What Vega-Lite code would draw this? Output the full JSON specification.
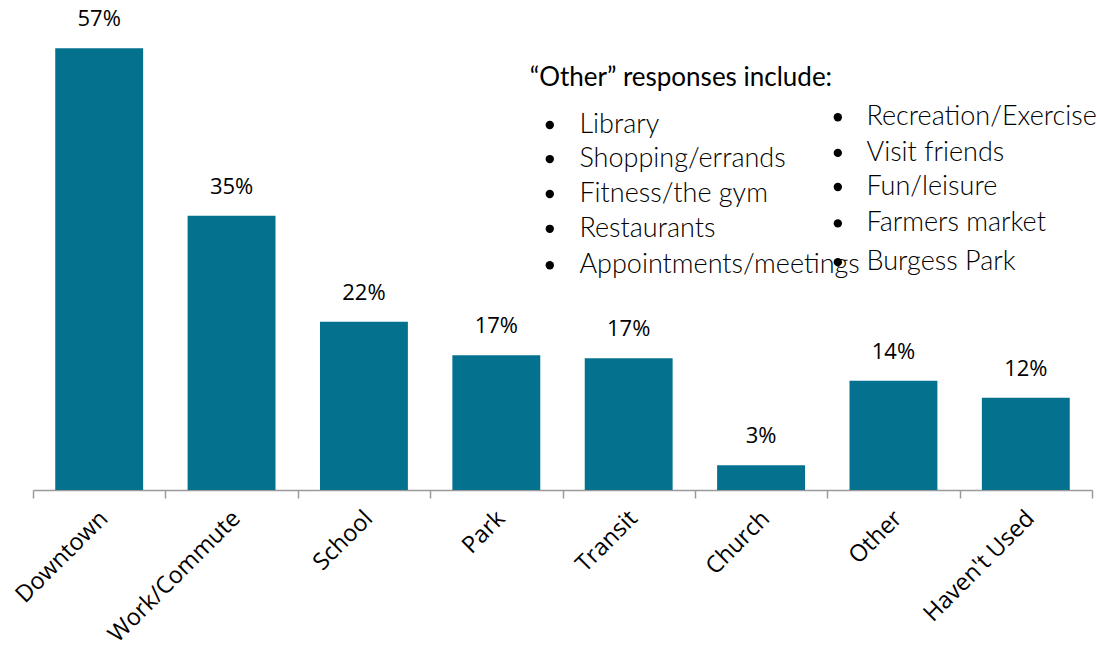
{
  "$schema": "https://vega.github.io/schema/vega-lite/v6.json",
  "width": 1059,
  "height": 465,
  "autosize": {"type": "none"},
  "padding": {"left": 33, "top": 25, "right": 5, "bottom": 160},
  "config": {"view": {"stroke": null}},
  "layer": [
    {
      "data": {"values": [
        {"place": "Downtown", "share": 0.57},
        {"place": "Work/Commute", "share": 0.354},
        {"place": "School", "share": 0.217},
        {"place": "Park", "share": 0.174},
        {"place": "Transit", "share": 0.170},
        {"place": "Church", "share": 0.032},
        {"place": "Other", "share": 0.141},
        {"place": "Haven't Used", "share": 0.119}
      ]},
      "encoding": {
        "x": {
          "field": "place", "type": "nominal", "sort": null,
          "scale": {"paddingInner": 0, "paddingOuter": 0},
          "axis": {
            "title": null, "labelAngle": -45, "labelFont": "Open Sans", "labelFontSize": 23.5,
            "labelColor": "#000", "labelPadding": 8, "labelOffset": -4, "domainColor": "#9a9a9a", "domainWidth": 1.5,
            "tickColor": "#9a9a9a", "tickWidth": 1.5, "tickSize": 8, "tickBand": "extent"
          }
        },
        "y": {"field": "share", "type": "quantitative", "scale": {"domain": [0, 0.6]}, "axis": null}
      },
      "layer": [
        {"mark": {"type": "bar", "color": "#04728F", "width": {"band": 0.664}}},
        {
          "mark": {"type": "text", "baseline": "bottom", "dy": -17, "font": "Open Sans", "fontSize": 22, "color": "#000"},
          "encoding": {"text": {"field": "share", "type": "quantitative", "format": ".0%"}}
        }
      ]
    },
    {
      "data": {"values": [
        {"item": "Library", "tx": 51.6, "bx": 48.8, "v": 0.471},
        {"item": "Shopping/errands", "tx": 51.6, "bx": 48.8, "v": 0.427},
        {"item": "Fitness/the gym", "tx": 51.6, "bx": 48.8, "v": 0.382},
        {"item": "Restaurants", "tx": 51.6, "bx": 48.8, "v": 0.337},
        {"item": "Appointments/meetings", "tx": 51.6, "bx": 48.8, "v": 0.290},
        {"item": "Recreation/Exercise", "tx": 78.7, "bx": 76.0, "v": 0.481},
        {"item": "Visit friends", "tx": 78.7, "bx": 76.0, "v": 0.435},
        {"item": "Fun/leisure", "tx": 78.7, "bx": 76.0, "v": 0.391},
        {"item": "Farmers market", "tx": 78.7, "bx": 76.0, "v": 0.344},
        {"item": "Burgess Park", "tx": 78.7, "bx": 76.0, "v": 0.294}
      ]},
      "layer": [
        {
          "mark": {"type": "point", "filled": true, "color": "#000", "opacity": 1, "size": 70},
          "encoding": {
            "x": {"field": "bx", "type": "quantitative", "scale": {"domain": [0, 100]}, "axis": null},
            "y": {"field": "v", "type": "quantitative", "scale": {"domain": [0, 0.6]}, "axis": null}
          }
        },
        {
          "mark": {"type": "text", "align": "left", "baseline": "middle", "font": "Lato", "fontWeight": 300, "fontSize": 27, "color": "#000"},
          "encoding": {
            "x": {"field": "tx", "type": "quantitative", "scale": {"domain": [0, 100]}, "axis": null},
            "y": {"field": "v", "type": "quantitative", "scale": {"domain": [0, 0.6]}, "axis": null},
            "text": {"field": "item"}
          }
        },
        {
          "data": {"values": [{"title": "\u201cOther\u201d responses include:", "tx": 46.9, "v": 0.531}]},
          "mark": {"type": "text", "align": "left", "baseline": "middle", "font": "Lato", "fontSize": 26, "color": "#000"},
          "encoding": {
            "x": {"field": "tx", "type": "quantitative", "scale": {"domain": [0, 100]}, "axis": null},
            "y": {"field": "v", "type": "quantitative", "scale": {"domain": [0, 0.6]}, "axis": null},
            "text": {"field": "title"}
          }
        }
      ]
    }
  ],
  "resolve": {"scale": {"x": "independent"}}
}
